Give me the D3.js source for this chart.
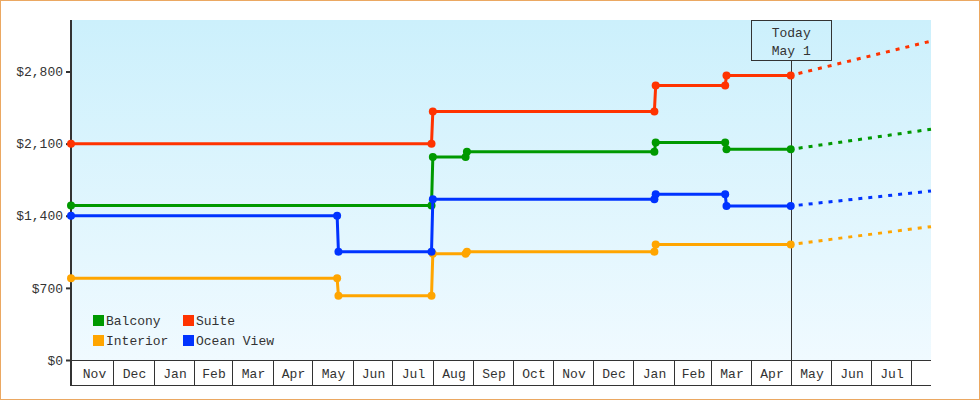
<!DOCTYPE html>
<html>
<head>
<meta charset="utf-8">
<script src="https://cdn.jsdelivr.net/npm/d3@7"></script>
<style>
  body { margin: 0; background: #fff; }
  text { font-family: "Liberation Mono", monospace; fill: #333; }
</style>
</head>
<body>
<svg class="pricesvg" width="980" height="400"></svg>
<script>
// price history per cabin type (dates of each recorded price)
var balconyDates = ["2011-10-30", "2012-07-31", "2012-08-01", "2012-08-26", "2012-08-27", "2013-01-17", "2013-01-18", "2013-03-12", "2013-03-13", "2013-05-01"];
var balconyValues = [1500, 1500, 1970, 1970, 2022, 2022, 2112, 2112, 2045, 2045];

var suiteDates = ["2011-10-30", "2012-07-31", "2012-08-01", "2013-01-17", "2013-01-18", "2013-03-12", "2013-03-13", "2013-05-01"];
var suiteValues = [2100, 2100, 2413, 2413, 2665, 2665, 2762, 2762];

var interiorDates = ["2011-10-30", "2012-05-20", "2012-05-21", "2012-07-31", "2012-08-01", "2012-08-26", "2012-08-27", "2013-01-17", "2013-01-18", "2013-05-01"];
var interiorValues = [793, 793, 624, 624, 1032, 1032, 1050, 1050, 1122, 1122];

var oceanDates = ["2011-10-30", "2012-05-20", "2012-05-21", "2012-07-31", "2012-08-01", "2013-01-17", "2013-01-18", "2013-03-12", "2013-03-13", "2013-05-01"];
var oceanValues = [1400, 1400, 1050, 1050, 1560, 1560, 1608, 1608, 1495, 1495];

// projected price at end of window
var forecastDate = "2013-08-16";
var forecastBalcony = 2240;
var forecastSuite = 3095;
var forecastInterior = 1294;
var forecastOcean = 1640;

var todayDate = "2013-05-01";
var yTicks = [0, 700, 1400, 2100, 2800];

var parse = d3.timeParse("%Y-%m-%d");

var series = [
    { name: "Interior", color: "#ffa500", dates: interiorDates, values: interiorValues, forecast: forecastInterior },
    { name: "Balcony", color: "#009900", dates: balconyDates, values: balconyValues, forecast: forecastBalcony },
    { name: "Ocean View", color: "#0033ff", dates: oceanDates, values: oceanValues, forecast: forecastOcean },
    { name: "Suite", color: "#ff3300", dates: suiteDates, values: suiteValues, forecast: forecastSuite }
];

var svg = d3.select(".pricesvg"),
    plotLeft = 71, plotRight = 931, plotTop = 20, plotBottom = 360, cellBottom = 385;

svg.append("rect")
    .attr("x", 0.5).attr("y", 0.5)
    .attr("width", 979).attr("height", 399)
    .attr("fill", "#fff")
    .attr("stroke", "#eba862");

var grad = svg.append("defs").append("linearGradient")
    .attr("id", "bg").attr("x1", 0).attr("y1", 0).attr("x2", 0).attr("y2", 1);
grad.append("stop").attr("offset", "0%").attr("stop-color", "#ccf0fc");
grad.append("stop").attr("offset", "100%").attr("stop-color", "#f0faff");

var xScale = d3.scaleTime()
    .domain([parse("2011-10-30"), parse(forecastDate)])
    .range([plotLeft, plotRight]);
var yScale = d3.scaleLinear().domain([0, 3300]).range([plotBottom, plotTop]);

svg.append("rect")
    .attr("x", plotLeft).attr("y", plotTop)
    .attr("width", plotRight - plotLeft).attr("height", plotBottom - plotTop)
    .attr("fill", "url(#bg)");

// month cells under the plot
var months = d3.timeMonth.range(parse("2011-11-01"), parse(forecastDate));
function cellStart(d) { return Math.max(plotLeft, Math.round(xScale(d))); }
var cells = svg.append("g");
cells.append("line")
    .attr("x1", plotLeft).attr("x2", plotRight)
    .attr("y1", plotBottom + 0.5).attr("y2", plotBottom + 0.5)
    .attr("stroke", "#333");
cells.append("line")
    .attr("x1", plotLeft).attr("x2", plotRight)
    .attr("y1", cellBottom + 0.5).attr("y2", cellBottom + 0.5)
    .attr("stroke", "#333");
cells.selectAll(".sep")
    .data(months.slice(1))
    .enter().append("line")
    .attr("x1", function(d) { return cellStart(d) + 0.5; })
    .attr("x2", function(d) { return cellStart(d) + 0.5; })
    .attr("y1", plotBottom).attr("y2", cellBottom + 1)
    .attr("stroke", "#333");
cells.selectAll(".mlabel")
    .data(months.slice(0, -1))
    .enter().append("text")
    .attr("x", function(d) { return (cellStart(d) + cellStart(d3.timeMonth.offset(d, 1))) / 2 + 1; })
    .attr("y", 378)
    .attr("text-anchor", "middle")
    .style("font-size", "13px")
    .text(d3.timeFormat("%b"));

// y axis
var yAxis = svg.append("g")
    .attr("transform", "translate(" + plotLeft + ",0)")
    .call(d3.axisLeft(yScale).tickValues(yTicks).tickSize(5).tickPadding(3)
        .tickFormat(function(d) { return "$" + d3.format(",")(d); }));
yAxis.select(".domain").remove();
yAxis.selectAll("line").attr("stroke", "#333").attr("stroke-width", 2);
yAxis.selectAll("text").style("font-size", "13px").attr("fill", "#333")
    .style("font-family", "Liberation Mono, monospace");
svg.append("line")
    .attr("x1", plotLeft).attr("x2", plotLeft)
    .attr("y1", plotTop).attr("y2", cellBottom + 1)
    .attr("stroke", "#333").attr("stroke-width", 2);

// today marker
var tx = xScale(parse(todayDate));
svg.append("line")
    .attr("x1", Math.round(tx) + 0.5).attr("x2", Math.round(tx) + 0.5)
    .attr("y1", 60).attr("y2", plotBottom)
    .attr("stroke", "#333");
svg.append("rect")
    .attr("x", Math.round(tx) - 39.5).attr("y", 20.5)
    .attr("width", 80).attr("height", 40)
    .attr("fill", "none").attr("stroke", "#333");
svg.append("text").attr("x", tx + 0.5).attr("y", 37).attr("text-anchor", "middle")
    .style("font-size", "13px").text("Today");
svg.append("text").attr("x", tx + 0.5).attr("y", 55).attr("text-anchor", "middle")
    .style("font-size", "13px").text(d3.timeFormat("%b %-d")(parse(todayDate)));

var line = d3.line()
    .x(function(d) { return xScale(d[0]); })
    .y(function(d) { return yScale(d[1]); });

var g = svg.append("g");
series.forEach(function(s) {
    var pts = s.dates.map(function(d, i) { return [parse(d), s.values[i]]; });
    var last = pts[pts.length - 1];
    g.append("path")
        .datum([last, [parse(forecastDate), s.forecast]])
        .attr("d", line)
        .attr("fill", "none")
        .attr("stroke", s.color)
        .attr("stroke-width", 3)
        .attr("stroke-dasharray", "4,6")
        .attr("stroke-dashoffset", -8);
    g.append("path")
        .datum(pts)
        .attr("d", line)
        .attr("fill", "none")
        .attr("stroke", s.color)
        .attr("stroke-width", 3);
    g.selectAll(".pt-" + s.name.replace(" ", ""))
        .data(pts)
        .enter().append("circle")
        .attr("cx", function(d) { return xScale(d[0]); })
        .attr("cy", function(d) { return yScale(d[1]); })
        .attr("r", 4)
        .attr("fill", s.color);
});

// legend
var legendItems = [
    { name: "Balcony", color: "#009900", x: 93, y: 315 },
    { name: "Suite", color: "#ff3300", x: 183, y: 315 },
    { name: "Interior", color: "#ffa500", x: 93, y: 335 },
    { name: "Ocean View", color: "#0033ff", x: 183, y: 335 }
];
var legend = svg.append("g");
legend.selectAll("rect")
    .data(legendItems)
    .enter().append("rect")
    .attr("x", function(d) { return d.x; })
    .attr("y", function(d) { return d.y; })
    .attr("width", 11).attr("height", 11)
    .attr("fill", function(d) { return d.color; });
legend.selectAll("text")
    .data(legendItems)
    .enter().append("text")
    .attr("x", function(d) { return d.x + 13; })
    .attr("y", function(d) { return d.y + 10; })
    .style("font-size", "13px")
    .text(function(d) { return d.name; });
</script>
</body>
</html>
